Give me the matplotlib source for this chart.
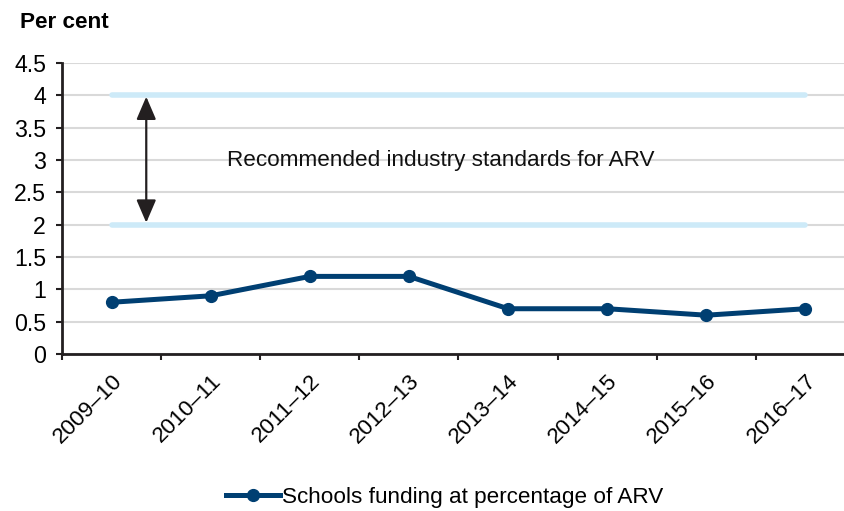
import matplotlib
matplotlib.use("Agg")
import matplotlib.pyplot as plt
import numpy as np

plt.rcParams['font.family'] = ['Liberation Sans', 'DejaVu Sans']

categories = ["2009–10", "2010–11", "2011–12", "2012–13", "2013–14", "2014–15", "2015–16", "2016–17"]
values = [0.8, 0.9, 1.2, 1.2, 0.7, 0.7, 0.6, 0.7]
standard_low = 2
standard_high = 4
yticks = [0, 0.5, 1, 1.5, 2, 2.5, 3, 3.5, 4, 4.5]
ytick_labels = ["0", "0.5", "1", "1.5", "2", "2.5", "3", "3.5", "4", "4.5"]

FS = 16.2

fig = plt.figure(figsize=(8.45, 5.11), dpi=100)
ax = fig.add_axes([62/845, 1-354/511, (855-62)/845, (354-63)/511])

x = np.arange(len(categories))
navy = "#003f72"
lightblue = "#cdeaf8"

ax.set_xlim(-0.5, len(categories)-0.5)
ax.set_ylim(0, 4.5)
ax.set_yticks(yticks)
ax.set_yticklabels(ytick_labels, fontsize=FS + 0.5)
ax.yaxis.grid(True, color="#d9d9d9", linewidth=1.5)
ax.set_axisbelow(True)

ax.plot([x[0], x[-1]], [standard_high]*2, color=lightblue, linewidth=4, solid_capstyle='round', zorder=2)
ax.plot([x[0], x[-1]], [standard_low]*2, color=lightblue, linewidth=4, solid_capstyle='round', zorder=2)

ax.annotate("", xy=(0.35, standard_high - 0.02), xytext=(0.35, standard_low + 0.03),
            arrowprops=dict(arrowstyle="<|-|>,head_length=0.7,head_width=0.3", color="#231f20", lw=1.6,
                            mutation_scale=20, shrinkA=0, shrinkB=0), zorder=4)
ax.text(1.16, 3.0, "Recommended industry standards for ARV", fontsize=FS, ha="left", va="center",
        color="#111111")

line, = ax.plot(x, values, color=navy, linewidth=3.6, marker="o", markersize=8.5, zorder=5,
                label="Schools funding at percentage of ARV")

ax.set_xticks(np.arange(-0.5, len(categories)), minor=False)
ax.set_xticklabels([])
ax.set_xticks(x, minor=True)
ax.set_xticklabels(categories, minor=True, rotation=45, ha="right", rotation_mode="anchor", fontsize=FS)
ax.tick_params(axis="x", which="major", length=4.5, width=1.5, color="#231f20", direction="out")
ax.tick_params(axis="x", which="minor", length=0, pad=12)
ax.tick_params(axis="y", length=4.5, width=1.5, color="#231f20", direction="out", pad=7)
for lbl in ax.get_xticklabels(minor=True):
    lbl.set_x(lbl.get_position()[0])

for s in ["top", "right"]:
    ax.spines[s].set_visible(False)
for s in ["left", "bottom"]:
    ax.spines[s].set_color("#231f20")
    ax.spines[s].set_linewidth(2)

fig.text(20/845, 1-22/511, "Per cent", fontsize=FS, fontweight="bold", ha="left", va="center")

fig.legend(handles=[line], loc="center", bbox_to_anchor=(445/845, 1-497/511), frameon=False,
           fontsize=FS, handlelength=2.4, handletextpad=0.1)

fig.savefig("out.png", dpi=100)
